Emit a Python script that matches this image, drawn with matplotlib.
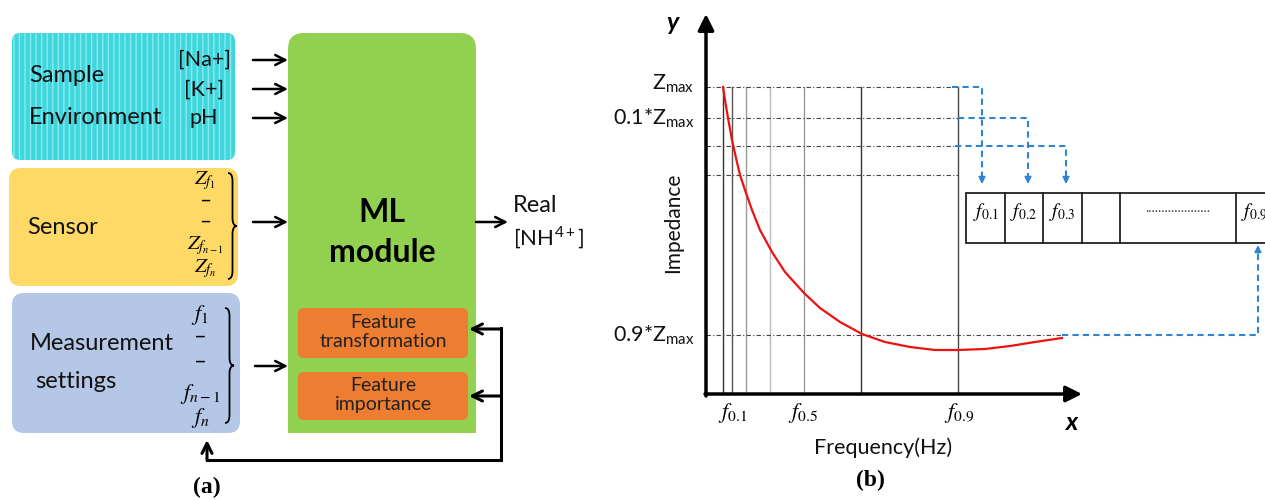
import numpy as np
import matplotlib.pyplot as plt
from matplotlib.patches import FancyBboxPatch, Rectangle, PathPatch
from matplotlib.path import Path

plt.rcParams['font.family'] = ['Lato', 'DejaVu Sans']
plt.rcParams['mathtext.fontset'] = 'stix'

# panel (a) inputs
sample_inputs = ['[Na+]', '[K+]', 'pH']
sensor_inputs = [r'$Z_{f_1}$', '–', '–', r'$Z_{f_{n-1}}$', r'$Z_{f_n}$']
meas_inputs = [r'$f_1$', '–', '–', r'$f_{n-1}$', r'$f_n$']

# panel (b) impedance curve (pixel coords of the sketch)
curve_x = [723, 725, 728, 732, 736, 740, 746, 752, 760, 772, 785, 804, 820, 840,
           862, 885, 910, 935, 958, 985, 1010, 1035, 1062]
curve_y = [87, 100, 118, 140, 158, 175, 193, 210, 230, 252, 272, 293, 308, 322,
           334, 342, 347, 350, 350, 349, 346, 342, 338]
vline_x = [723, 732, 746, 770, 804, 861, 958]
vline_gray = ['#333333', '#555555', '#999999', '#bbbbbb', '#999999', '#333333', '#444444']
level_y = [87, 118, 146, 175, 335]
level_end = [952, 958, 955, 958, 1062]
level_labels = [r'$\mathregular{Z_{max}}$', r'$\mathregular{0.1{*}Z_{max}}$', '', '',
                r'$\mathregular{0.9{*}Z_{max}}$']
xtick_x = [733, 803, 959]
xtick_labels = [r'$f_{0.1}$', r'$f_{0.5}$', r'$f_{0.9}$']
cell_edges = [966, 1005, 1043, 1082, 1120, 1236, 1290]
cell_labels = [r'$f_{0.1}$', r'$f_{0.2}$', r'$f_{0.3}$', '', '....................', r'$f_{0.9}$']

fig = plt.figure(figsize=(12.65, 5), dpi=100)
ax = fig.add_axes([0, 0, 1, 1])
ax.set_xlim(0, 1265)
ax.set_ylim(500, 0)
ax.axis('off')


def rbox(x0, y0, x1, y1, color, r=10, z=1, **kw):
    p = FancyBboxPatch((x0, y0), x1 - x0, y1 - y0,
                       boxstyle='round,pad=0,rounding_size=%g' % r,
                       fc=color, ec='none', zorder=z, **kw)
    ax.add_patch(p)
    return p


def arrow(x0, y0, x1, y1, color='black', lw=1.8, style='->', ms=18, z=5):
    ax.annotate('', xy=(x1, y1), xytext=(x0, y0),
                arrowprops=dict(arrowstyle=style, lw=lw, color=color,
                                mutation_scale=ms, shrinkA=0, shrinkB=0), zorder=z)


def brace(x, y0, y1, w=9):
    ym = (y0 + y1) / 2
    r = 8
    xm = x + w / 2
    verts = [(x, y0), (xm, y0), (xm, y0 + r), (xm, ym - r), (xm, ym), (x + w, ym),
             (x + w, ym), (xm, ym), (xm, ym + r), (xm, y1 - r), (xm, y1), (x, y1)]
    codes = [Path.MOVETO, Path.CURVE3, Path.CURVE3, Path.LINETO, Path.CURVE3, Path.CURVE3,
             Path.MOVETO, Path.CURVE3, Path.CURVE3, Path.LINETO, Path.CURVE3, Path.CURVE3]
    ax.add_patch(PathPatch(Path(verts, codes), fc='none', ec='black', lw=1.3, zorder=4))


# ---- panel (a) ----
rbox(12, 33, 235, 160, '#3ed7de', r=8)
ax.add_patch(FancyBboxPatch((12, 33), 223, 127, boxstyle='round,pad=0,rounding_size=8',
                            fc='none', ec='#8ae9ee', lw=0, hatch='|||', zorder=2))
rbox(9, 168, 238, 286, '#fed966', r=12)
rbox(12, 293, 240, 433, '#b4c7e7', r=12)
rbox(288, 33, 476, 433, '#92d050', r=16)
ax.add_patch(Rectangle((288, 300), 188, 133, fc='#92d050', ec='none', zorder=1))
rbox(298, 308, 468, 358, '#ed7d31', r=6, z=2)
rbox(298, 372, 468, 420, '#ed7d31', r=6, z=2)

tk = dict(fontsize=17, va='center', color='#111111')
ax.text(29, 76, 'Sample', **tk)
ax.text(29, 118, 'Environment', **tk)
ax.text(27, 228, 'Sensor', **tk)
ax.text(30, 344, 'Measurement', **tk)
ax.text(35, 382, 'settings', **tk)

for lab, y in zip(sample_inputs, [60, 90, 118]):
    ax.text(204, y, lab, fontsize=15.5, ha='center', va='center', color='#111111')
for y in [60, 89, 118, 222]:
    arrow(253, y, 288, y)
for lab, y in zip(sensor_inputs, [181, 201, 222, 246, 269]):
    ax.text(205, y, lab, fontsize=15, ha='center', va='center')
brace(228, 173, 279)
for lab, y in zip(meas_inputs, [315, 337, 362, 394, 418]):
    ax.text(200, y, lab, fontsize=16, ha='center', va='center')
brace(225, 308, 423)
arrow(255, 366, 288, 366)

ax.text(382, 213, 'ML', fontsize=23, fontweight='bold', ha='center', va='center')
ax.text(382, 253, 'module', fontsize=23, fontweight='bold', ha='center', va='center')
ax.text(383, 332, 'Feature\ntransformation', fontsize=14, ha='center', va='center',
        linespacing=1.1, zorder=3, color='#222222')
ax.text(383, 395, 'Feature\nimportance', fontsize=14, ha='center', va='center',
        linespacing=1.1, zorder=3, color='#222222')

arrow(476, 222, 508, 222)
ax.text(513, 206, 'Real', **tk)
ax.text(513, 238, r'[NH$^{\mathregular{4+}}$]', fontsize=16, va='center', color='#111111')

# feedback loop
ax.plot([501, 501], [328, 460], color='black', lw=2.2, zorder=5)
ax.plot([501, 207], [460, 460], color='black', lw=2.2, zorder=5, solid_capstyle='projecting')
arrow(501, 329, 469, 329, lw=2.2)
arrow(501, 396, 469, 396, lw=2.2)
arrow(207, 460, 207, 440, lw=2.2)
ax.text(207, 487, '(a)', fontsize=17, fontweight='bold', family='Liberation Serif',
        ha='center', va='center')

# ---- panel (b) ----
for x, c in zip(vline_x, vline_gray):
    ax.plot([x, x], [87, 394], color=c, lw=1.0, zorder=2)
for y, xe, lab in zip(level_y, level_end, level_labels):
    ax.plot([706, xe], [y, y], color='#444444', lw=0.8, ls=(0, (4, 2, 1, 2)), zorder=2)
    if lab:
        ax.text(694, y - 3 if y == 87 else y, lab, fontsize=15.5, ha='right', va='center',
                color='#111111')
ax.plot(curve_x, curve_y, color='#ee1111', lw=1.6, zorder=3)

arrow(706, 396, 706, 14, style='-|>', lw=2.5, ms=24)
arrow(705, 394, 1082, 394, style='-|>', lw=2.5, ms=24)
ax.text(672, 22, 'y', fontsize=18, fontweight='bold', style='italic', ha='center', va='center')
ax.text(1072, 423, 'x', fontsize=18, fontweight='bold', style='italic', ha='center', va='center')
ax.text(673, 223, 'Impedance', fontsize=15, rotation=90, ha='center', va='center', color='#111111')
for x, lab in zip(xtick_x, xtick_labels):
    ax.text(x, 413, lab, fontsize=16, ha='center', va='center')
ax.text(883, 448, 'Frequency(Hz)', fontsize=15.5, ha='center', va='center', color='#111111')
ax.text(870, 480, '(b)', fontsize=17, fontweight='bold', family='Liberation Serif',
        ha='center', va='center')

# feature table
ax.add_patch(Rectangle((cell_edges[0], 193), cell_edges[-1] - cell_edges[0], 50,
                       fc='white', ec='#222222', lw=1.3, zorder=4))
for x in cell_edges[1:-1]:
    ax.plot([x, x], [193, 243], color='#222222', lw=1.3, zorder=4)
for x0, x1, lab in zip(cell_edges[:-1], cell_edges[1:], cell_labels):
    if lab.startswith('.'):
        ax.text((x0 + x1) / 2, 208, lab, fontsize=10, ha='center', va='center',
                color='#444444', zorder=5)
    elif lab:
        xc = (x0 + x1) / 2 if x1 < 1265 else x0 + 18
        ax.text(xc, 212, lab, fontsize=14, ha='center', va='center', zorder=5)

# blue dashed routes
blue = '#2f84d2'
routes = [([952, 982, 982], [87, 87, 176]),
          ([958, 1028, 1028], [118, 118, 176]),
          ([955, 1066, 1066], [146, 146, 176]),
          ([1062, 1258, 1258], [335, 335, 253])]
for xs, ys in routes:
    ax.plot(xs, ys, color=blue, lw=1.5, ls=(0, (3, 2)), zorder=3)
    arrow(xs[-1], ys[-1], xs[-1], ys[-1] + (8 if ys[-1] > ys[0] else -8),
          color=blue, style='-|>', lw=1.2, ms=10)

fig.savefig('out.png', dpi=100)
